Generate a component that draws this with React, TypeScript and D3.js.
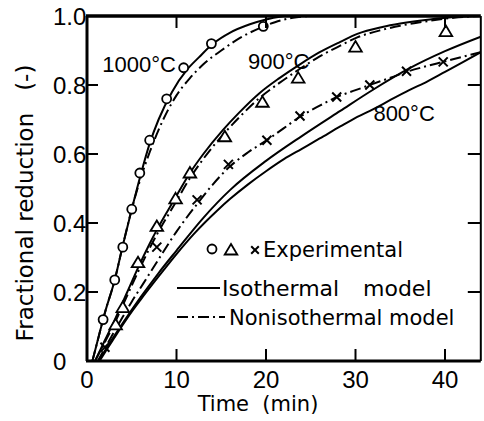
import React from "react";
import * as d3 from "d3";

// ---- data ----
const xTicks = [0, 10, 20, 30, 40];
const yTicks = [0, 0.2, 0.4, 0.6, 0.8, 1.0];
const yTickLabels = ["0", "0.2", "0.4", "0.6", "0.8", "1.0"];

const circleT = [1.8, 3.1, 4.0, 5.0, 5.9, 7.0, 8.9, 10.8, 13.9, 19.7];
const circleV = [0.12, 0.235, 0.33, 0.44, 0.545, 0.64, 0.76, 0.85, 0.92, 0.97];

const triT = [3.2, 4.0, 5.7, 7.8, 9.9, 11.5, 15.4, 19.6, 23.6, 30.0, 40.1];
const triV = [0.105, 0.155, 0.285, 0.39, 0.47, 0.545, 0.65, 0.75, 0.82, 0.91, 0.955];

const crossT = [2.0, 7.8, 12.3, 15.8, 20.1, 23.8, 27.9, 31.6, 35.7, 39.8];
const crossV = [0.04, 0.33, 0.467, 0.57, 0.64, 0.71, 0.765, 0.8, 0.84, 0.867];

const iso1000T = [0.6, 1.1, 2, 3.1, 4, 5, 6, 7, 8, 9.5, 11.2, 12.5, 14.1, 16, 18.2, 20, 22];
const iso1000V = [0, 0.05, 0.14, 0.235, 0.335, 0.44, 0.54, 0.63, 0.7, 0.78, 0.845, 0.88, 0.92, 0.952, 0.976, 0.99, 1.0];
const non1000T = [0.6, 1.1, 2, 3.1, 4, 5, 6, 7, 8, 9, 10, 11.5, 13, 15, 17, 19.3, 21, 23, 25];
const non1000V = [0, 0.05, 0.14, 0.235, 0.335, 0.44, 0.53, 0.605, 0.67, 0.725, 0.77, 0.82, 0.86, 0.9, 0.935, 0.965, 0.982, 0.995, 1.0];

const iso900T = [0.9, 2, 3.2, 4.5, 5.7, 7, 7.8, 9.8, 11.5, 13, 15.2, 17, 19.3, 21.5, 23.8, 26, 28.3, 30.2, 33, 35, 38.3, 41, 44];
const iso900V = [0, 0.06, 0.125, 0.2, 0.27, 0.34, 0.38, 0.47, 0.545, 0.6, 0.67, 0.72, 0.777, 0.82, 0.86, 0.895, 0.925, 0.948, 0.968, 0.978, 0.99, 0.997, 1.0];
const non900T = [0.9, 2, 3.2, 4.5, 5.7, 7, 7.8, 9.8, 11.5, 13, 15.2, 17, 19.3, 21.5, 23.8, 26, 28.3, 30.2, 33, 35, 38.3, 41, 44];
const non900V = [0, 0.055, 0.116, 0.19, 0.258, 0.327, 0.366, 0.455, 0.53, 0.586, 0.656, 0.706, 0.763, 0.806, 0.847, 0.883, 0.914, 0.938, 0.96, 0.972, 0.986, 0.995, 1.0];

// 800 °C: two solid curves and the dash-dot curve through the crosses
const iso800T = [1.4, 2, 3, 4, 5, 6, 8, 10, 12, 14.5, 16, 18, 20, 22, 24, 26, 28.3, 30, 32, 34, 36, 38, 40, 42, 44];
const iso800V = [0, 0.025, 0.065, 0.105, 0.143, 0.178, 0.245, 0.31, 0.37, 0.435, 0.47, 0.512, 0.55, 0.585, 0.615, 0.645, 0.68, 0.705, 0.73, 0.758, 0.785, 0.81, 0.838, 0.866, 0.895];
const iso800bT = [1.3, 2, 4, 6, 8, 10, 13, 16, 20, 24, 28.3, 32, 36, 40, 44];
const iso800bV = [0, 0.03, 0.11, 0.185, 0.255, 0.32, 0.415, 0.496, 0.58, 0.652, 0.725, 0.787, 0.848, 0.898, 0.94];
const non800T = [1.2, 2, 3, 4, 5, 6.3, 8, 10, 12.3, 14, 15.8, 18, 20.1, 22, 23.8, 26, 27.9, 30, 31.6, 34, 35.7, 38, 39.8, 42, 44];
const non800V = [0, 0.037, 0.083, 0.128, 0.172, 0.225, 0.295, 0.375, 0.455, 0.51, 0.56, 0.605, 0.64, 0.675, 0.708, 0.74, 0.765, 0.785, 0.8, 0.822, 0.838, 0.855, 0.867, 0.882, 0.895];

const tempLabels = [
  { text: "1000°C", t: 1.7, v: 0.838 },
  { text: "900°C", t: 18.0, v: 0.845 },
  { text: "800°C", t: 32.0, v: 0.695 },
];

const W = 484;
const H = 421;
const L = 87, R = 480.8, T = 16, B = 361;

export default function App() {
  const x = d3.scaleLinear().domain([0, 44]).range([L, R]);
  const y = d3.scaleLinear().domain([0, 1]).range([B, T]);
  const line = d3
    .line<[number, number]>()
    .x((d) => x(d[0]))
    .y((d) => y(d[1]))
    .curve(d3.curveMonotoneX);
  const zip = (a: number[], b: number[]) => a.map((t, i) => [t, b[i]] as [number, number]);

  const solids = [zip(iso1000T, iso1000V), zip(iso900T, iso900V), zip(iso800T, iso800V), zip(iso800bT, iso800bV)];
  const dashes = [zip(non1000T, non1000V), zip(non900T, non900V), zip(non800T, non800V)];
  const dashPattern = "11,4,2,4";
  const numFont = "Liberation Sans, Arial, sans-serif";
  const txtFont = "DejaVu Sans, sans-serif";

  const tri = (cx: number, cy: number, s = 6) =>
    `M${cx},${cy - s}L${cx + s * 1.05},${cy + s * 0.75}L${cx - s * 1.05},${cy + s * 0.75}Z`;
  const cross = (cx: number, cy: number, s = 4.5) =>
    `M${cx - s},${cy - s}L${cx + s},${cy + s}M${cx + s},${cy - s}L${cx - s},${cy + s}`;

  return (
    <svg width={W} height={H} style={{ position: "absolute", left: 0, top: 0, background: "#fff" }}>
      <defs>
        <clipPath id="plot">
          <rect x={L} y={T} width={R - L} height={B - T} />
        </clipPath>
      </defs>
      <rect x={0} y={0} width={W} height={H} fill="#fff" />
      <g clipPath="url(#plot)" fill="none" stroke="#000">
        {solids.map((d, i) => (
          <path key={"s" + i} d={line(d) || ""} strokeWidth={2} />
        ))}
        {dashes.map((d, i) => (
          <path key={"d" + i} d={line(d) || ""} strokeWidth={2} strokeDasharray={dashPattern} />
        ))}
      </g>
      {/* markers */}
      <g fill="#fff" stroke="#000" strokeWidth={1.8}>
        {circleT.map((t, i) => (
          <circle key={"c" + i} cx={x(t)} cy={y(circleV[i])} r={4.5} />
        ))}
        {triT.map((t, i) => (
          <path key={"t" + i} d={tri(x(t), y(triV[i]))} />
        ))}
        {crossT.map((t, i) => (
          <path key={"x" + i} d={cross(x(t), y(crossV[i]))} fill="none" strokeWidth={2} />
        ))}
      </g>
      {/* frame */}
      <g stroke="#000" fill="none">
        <line x1={L - 1} y1={T} x2={R} y2={T} strokeWidth={3.5} />
        <line x1={L - 1} y1={B} x2={R} y2={B} strokeWidth={3} />
        <line x1={L} y1={T} x2={L} y2={B} strokeWidth={3} />
        <line x1={R} y1={T} x2={R} y2={B} strokeWidth={2} />
      </g>
      {/* ticks */}
      <g stroke="#000" strokeWidth={2}>
        {xTicks.filter((t) => t > 0).map((t) => (
          <g key={"xt" + t}>
            <line x1={x(t)} x2={x(t)} y1={B} y2={B - 12} />
            <line x1={x(t)} x2={x(t)} y1={T} y2={T + 12} />
          </g>
        ))}
        {yTicks.filter((v) => v > 0 && v < 1).map((v) => (
          <g key={"yt" + v}>
            <line x1={L} x2={L + 11} y1={y(v)} y2={y(v)} />
            <line x1={R} x2={R - 13} y1={y(v)} y2={y(v)} />
          </g>
        ))}
      </g>
      <g fontFamily={numFont} fontSize={24} fill="#000">
        {xTicks.map((t) => (
          <text key={"xl" + t} x={x(t)} y={388} textAnchor="middle">
            {t}
          </text>
        ))}
        {yTicks.map((v, i) => (
          <text key={"yl" + v} x={53} y={y(v)} dy="0.36em" textAnchor="start">
            {yTickLabels[i]}
          </text>
        ))}
        {tempLabels.map((l) => (
          <text key={l.text} x={x(l.t)} y={y(l.v)} fontSize={22}>
            {l.text}
          </text>
        ))}
      </g>
      {/* axis titles */}
      <text x={258} y={411} textAnchor="middle" fontFamily={txtFont} fontSize={21} style={{ whiteSpace: "pre" }}>
        {"Time  (min)"}
      </text>
      <text
        transform={`translate(33,203) rotate(-90)`}
        textAnchor="middle"
        fontFamily={txtFont}
        fontSize={23}
        style={{ whiteSpace: "pre" }}
      >
        {"Fractional reduction   (-)"}
      </text>
      {/* legend */}
      <g fontFamily={txtFont} fontSize={21} fill="#000">
        <circle cx={212} cy={249} r={4.5} fill="#fff" stroke="#000" strokeWidth={1.8} />
        <path d={tri(231, 250)} fill="#fff" stroke="#000" strokeWidth={1.8} />
        <path d={cross(255, 250, 3.8)} stroke="#000" strokeWidth={2} fill="none" />
        <text x={263} y={249} dy="0.36em">Experimental</text>
        <line x1={177} x2={220} y1={288} y2={288} stroke="#000" strokeWidth={2} />
        <text x={222} y={288} dy="0.36em" fontSize={22}>Isothermal</text>
        <text x={363} y={288} dy="0.36em" fontSize={22}>model</text>
        <line x1={177} x2={225} y1={317} y2={317} stroke="#000" strokeWidth={2} strokeDasharray={dashPattern} />
        <text x={229} y={317} dy="0.36em">Nonisothermal model</text>
      </g>
    </svg>
  );
}
